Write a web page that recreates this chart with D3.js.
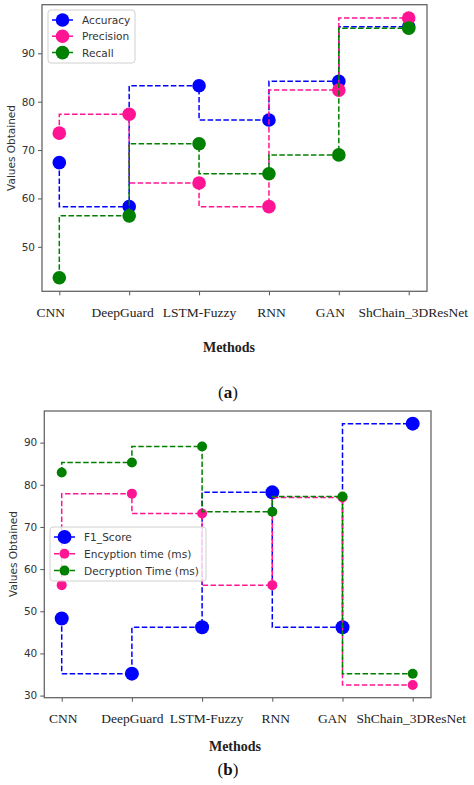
<!DOCTYPE html>
<html>
<head>
<meta charset="utf-8">
<script src="https://cdn.jsdelivr.net/npm/d3@7"></script>
<style>
  body { margin: 0; background: #fff; }
</style>
</head>
<body>
<div id="chart"></div>
<script>
// Shared categories
const methods = ["CNN", "DeepGuard", "LSTM-Fuzzy", "RNN", "GAN", "ShChain_3DResNet"];

// Panel (a) series
const accuracy = [67.4, 58.3, 83.3, 76.2, 84.2, 95.5];
const precision = [73.5, 77.4, 63.2, 58.3, 82.4, 97.3];
const recall = [43.6, 56.4, 71.3, 65.1, 69.0, 95.2];
const ticksA = [50, 60, 70, 80, 90];

// Panel (b) series
const f1Score = [48.3, 35.2, 46.2, 78.2, 46.2, 94.5];
const encryptionTime = [56.2, 77.9, 73.2, 56.2, 77.0, 32.5];
const decryptionTime = [82.9, 85.3, 89.1, 73.6, 77.2, 35.2];
const ticksB = [30, 40, 50, 60, 70, 80, 90];

const BLUE = "#0000ff", PINK = "#ff1493", GREEN = "#008000";

const svg = d3.select("#chart").append("svg")
  .attr("width", 474)
  .attr("height", 785);

function drawPanel(p) {
  const g = svg.append("g");

  const x = d3.scalePoint().domain(methods).range([p.cx0, p.cx1]);
  const y = d3.scaleLinear().domain(p.yDomain).range([p.bottom, p.top]);

  // y axis
  const yAxis = g.append("g")
    .attr("transform", `translate(${p.left},0)`)
    .call(d3.axisLeft(y).tickValues(p.ticks).tickSize(4).tickPadding(3));
  yAxis.select(".domain").remove();
  yAxis.selectAll("line").attr("stroke", "#555");
  yAxis.selectAll("text")
    .style("font-family", "DejaVu Sans")
    .style("font-size", "10.5px")
    .attr("fill", "#333");

  // x axis (labels in the figure sit a little off their ticks)
  const xAxis = g.append("g")
    .attr("transform", `translate(0,${p.bottom})`)
    .call(d3.axisBottom(x).tickSize(4).tickPadding(12));
  xAxis.select(".domain").remove();
  xAxis.selectAll("line").attr("stroke", "#555");
  xAxis.selectAll("text")
    .attr("dx", (d, i) => p.labelDx[i])
    .style("font-family", "Liberation Serif")
    .style("font-size", "13.5px")
    .attr("fill", "#222");

  // frame
  g.append("rect")
    .attr("x", p.left).attr("y", p.top)
    .attr("width", p.right - p.left).attr("height", p.bottom - p.top)
    .attr("fill", "none").attr("stroke", "#666").attr("stroke-width", 1.3);

  const line = d3.line()
    .x((d, i) => x(methods[i]))
    .y(d => y(d))
    .curve(d3.curveStepBefore);

  p.series.forEach(s => {
    g.append("path")
      .datum(s.values)
      .attr("d", line)
      .attr("fill", "none")
      .attr("stroke", s.color)
      .attr("stroke-width", 1.5)
      .attr("stroke-dasharray", "5.5,2.4");
    g.selectAll(null)
      .data(s.values)
      .enter()
      .append("circle")
      .attr("cx", (d, i) => x(methods[i]))
      .attr("cy", d => y(d))
      .attr("r", s.r)
      .attr("fill", s.color);
  });

  // legend
  const lg = g.append("g");
  lg.append("rect")
    .attr("x", p.legend.x).attr("y", p.legend.y)
    .attr("width", p.legend.w).attr("height", p.legend.h)
    .attr("rx", 3)
    .attr("fill", "#fff").attr("fill-opacity", 0.8)
    .attr("stroke", "#d0d0d0");
  p.series.forEach((s, i) => {
    const ly = p.legend.y + p.legend.first + i * p.legend.step;
    const lx = p.legend.x + 4;
    lg.append("line")
      .attr("x1", lx).attr("x2", lx + 21)
      .attr("y1", ly).attr("y2", ly)
      .attr("stroke", s.color).attr("stroke-width", 1.5)
      .attr("stroke-dasharray", "5.5,2.4");
    lg.append("circle")
      .attr("cx", lx + 10.5).attr("cy", ly).attr("r", s.r)
      .attr("fill", s.color);
    lg.append("text")
      .attr("x", lx + 30).attr("y", ly + 4)
      .style("font-family", "DejaVu Sans")
      .style("font-size", "10.6px")
      .attr("fill", "#333")
      .text(s.name);
  });

  // axis titles
  g.append("text")
    .attr("transform", `translate(${p.yLabelX},${p.yLabelY}) rotate(-90)`)
    .style("text-anchor", "middle")
    .style("font-family", "DejaVu Sans")
    .style("font-size", "10.5px")
    .attr("fill", "#333")
    .text("Values Obtained");

  g.append("text")
    .attr("x", p.methodsX).attr("y", p.methodsY)
    .style("text-anchor", "middle")
    .style("font-family", "Liberation Serif")
    .style("font-weight", "bold")
    .style("font-size", "14px")
    .attr("fill", "#222")
    .text("Methods");

  // panel caption
  const cap = g.append("text")
    .attr("x", 228).attr("y", p.captionY)
    .style("text-anchor", "middle")
    .style("font-family", "Liberation Serif")
    .style("font-size", "17px")
    .attr("fill", "#111");
  cap.append("tspan").text("(");
  cap.append("tspan").style("font-weight", "bold").text(p.caption);
  cap.append("tspan").text(")");
}

drawPanel({
  left: 42, right: 427, top: 4.7, bottom: 291.3,
  cx0: 59.3, cx1: 408.7,
  yDomain: [40.8, 100.05],
  ticks: ticksA,
  labelDx: [-9, -7, 0, 2, -9, 4],
  series: [
    { name: "Accuracy", values: accuracy, color: BLUE, r: 6.8 },
    { name: "Precision", values: precision, color: PINK, r: 6.8 },
    { name: "Recall", values: recall, color: GREEN, r: 6.8 }
  ],
  legend: { x: 48, y: 10, w: 87, h: 53, first: 10, step: 16.3 },
  yLabelX: 14.5, yLabelY: 148,
  methodsX: 229, methodsY: 352,
  caption: "a", captionY: 398
});

drawPanel({
  left: 44.3, right: 431, top: 411, bottom: 697.7,
  cx0: 61.7, cx1: 412.7,
  yDomain: [29.5, 97.5],
  ticks: ticksB,
  labelDx: [1, 0, 4, 3, -10.5, -2],
  series: [
    { name: "F1_Score", values: f1Score, color: BLUE, r: 7 },
    { name: "Encyption time (ms)", values: encryptionTime, color: PINK, r: 5 },
    { name: "Decryption Time (ms)", values: decryptionTime, color: GREEN, r: 5 }
  ],
  legend: { x: 50, y: 527, w: 156, h: 54, first: 10, step: 16.8 },
  yLabelX: 16.5, yLabelY: 554,
  methodsX: 235, methodsY: 751,
  caption: "b", captionY: 775
});
</script>
</body>
</html>
